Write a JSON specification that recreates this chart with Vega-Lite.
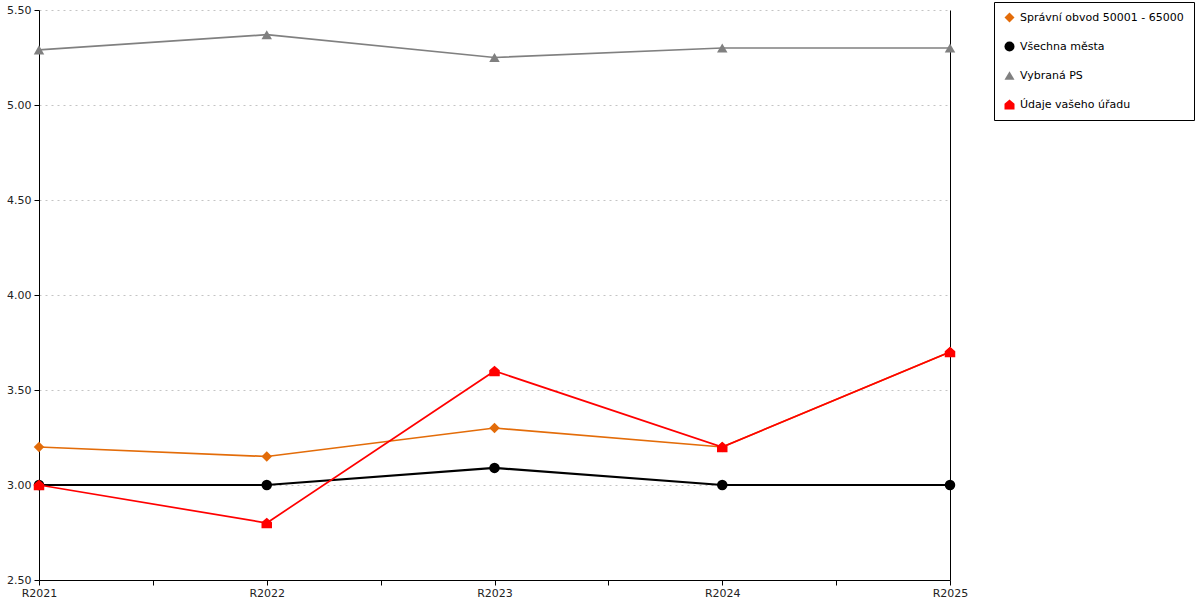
{
  "$schema": "https://vega.github.io/schema/vega-lite/v6.json",
  "autosize": "none",
  "width": 911,
  "height": 570,
  "padding": {"left": 39, "top": 10, "right": 250, "bottom": 20},
  "background": "white",
  "config": {
    "font": "DejaVu Sans",
    "view": {"stroke": null},
    "axis": {"labelFont": "DejaVu Sans", "labelColor": "#222", "domainColor": "black", "tickColor": "black"}
  },
  "data": {
    "values": [
      {"period": "R2021", "year": 2021, "series": "Správní obvod 50001 - 65000", "value": 3.2},
      {"period": "R2022", "year": 2022, "series": "Správní obvod 50001 - 65000", "value": 3.15},
      {"period": "R2023", "year": 2023, "series": "Správní obvod 50001 - 65000", "value": 3.3},
      {"period": "R2024", "year": 2024, "series": "Správní obvod 50001 - 65000", "value": 3.2},
      {"period": "R2025", "year": 2025, "series": "Správní obvod 50001 - 65000", "value": 3.7},
      {"period": "R2021", "year": 2021, "series": "Všechna města", "value": 3.0},
      {"period": "R2022", "year": 2022, "series": "Všechna města", "value": 3.0},
      {"period": "R2023", "year": 2023, "series": "Všechna města", "value": 3.09},
      {"period": "R2024", "year": 2024, "series": "Všechna města", "value": 3.0},
      {"period": "R2025", "year": 2025, "series": "Všechna města", "value": 3.0},
      {"period": "R2021", "year": 2021, "series": "Vybraná PS", "value": 5.29},
      {"period": "R2022", "year": 2022, "series": "Vybraná PS", "value": 5.37},
      {"period": "R2023", "year": 2023, "series": "Vybraná PS", "value": 5.25},
      {"period": "R2024", "year": 2024, "series": "Vybraná PS", "value": 5.3},
      {"period": "R2025", "year": 2025, "series": "Vybraná PS", "value": 5.3},
      {"period": "R2021", "year": 2021, "series": "Údaje vašeho úřadu", "value": 3.0},
      {"period": "R2022", "year": 2022, "series": "Údaje vašeho úřadu", "value": 2.8},
      {"period": "R2023", "year": 2023, "series": "Údaje vašeho úřadu", "value": 3.6},
      {"period": "R2024", "year": 2024, "series": "Údaje vašeho úřadu", "value": 3.2},
      {"period": "R2025", "year": 2025, "series": "Údaje vašeho úřadu", "value": 3.7}
    ]
  },
  "resolve": {"axis": {"y": "independent"}},
  "layer": [
    {
      "mark": {"type": "line"},
      "encoding": {
        "x": {
          "field": "year", "type": "quantitative",
          "scale": {"domain": [2021, 2025], "nice": false, "zero": false},
          "axis": {
            "title": null, "grid": false,
            "values": [2021, 2021.5, 2022, 2022.5, 2023, 2023.5, 2024, 2024.5, 2025],
            "labelExpr": "datum.value % 1 == 0 ? 'R' + datum.value : ''",
            "tickSize": 5, "labelFontSize": 11, "labelPadding": 2, "labelOverlap": false, "labelFlush": false
          }
        },
        "y": {
          "field": "value", "type": "quantitative",
          "scale": {"domain": [2.5, 5.5], "nice": false, "zero": false},
          "axis": {
            "title": null, "format": ".2f", "values": [2.5, 3.0, 3.5, 4.0, 4.5, 5.0, 5.5],
            "grid": true, "gridDash": [2, 4], "gridColor": "#c4c4c4",
            "tickSize": 5, "labelFontSize": 11, "labelPadding": 3
          }
        },
        "color": {
          "field": "series", "type": "nominal",
          "scale": {
            "domain": ["Správní obvod 50001 - 65000", "Všechna města", "Vybraná PS", "Údaje vašeho úřadu"],
            "range": ["#E36C09", "#000000", "#808080", "#FF0000"]
          }
        },
        "strokeWidth": {"condition": {"test": "datum.series == 'Všechna města'", "value": 2.2}, "value": 1.7},
        "order": {"field": "year"}
      }
    },
    {
      "mark": {"type": "point", "filled": true, "opacity": 1, "size": 110},
      "encoding": {
        "x": {"field": "year", "type": "quantitative"},
        "y": {
          "field": "value", "type": "quantitative",
          "axis": {"orient": "right", "labels": false, "ticks": false, "grid": false, "title": null, "domainColor": "black"}
        },
        "color": {"field": "series", "type": "nominal", "legend": {
            "title": null, "orient": "none", "legendX": 955, "legendY": -8,
            "strokeColor": "black", "fillColor": "white", "padding": 10,
            "labelFontSize": 11, "labelColor": "black", "rowPadding": 17, "labelLimit": 0,
            "symbolSize": 100, "symbolStrokeWidth": 0, "labelOffset": 5
          }},
        "shape": {
          "field": "series", "type": "nominal",
          "scale": {
            "domain": ["Správní obvod 50001 - 65000", "Všechna města", "Vybraná PS", "Údaje vašeho úřadu"],
            "range": ["diamond", "circle", "triangle-up", "M-1,1L1,1L1,-0.15L0,-1L-1,-0.15Z"]
          }
        }
      }
    }
  ]
}
